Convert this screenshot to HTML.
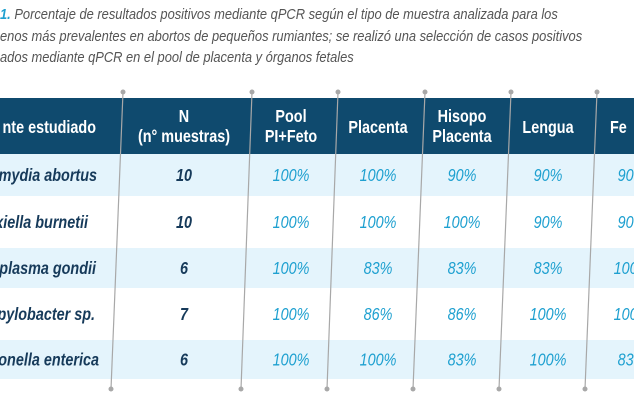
<!DOCTYPE html>
<html><head><meta charset="utf-8"><style>
body{margin:0;background:#fff;width:634px;height:400px;overflow:hidden}
svg{display:block;font-family:"Liberation Sans",sans-serif}
</style></head><body>
<svg id="t" width="634" height="400" viewBox="0 0 634 400">
<g font-style="italic" font-size="15" fill="#555" transform="scale(0.86,1)">
<text x="0" y="19"><tspan fill="#1ea0d0" font-weight="bold">1.</tspan> Porcentaje de resultados positivos mediante qPCR según el tipo de muestra analizada para los</text>
<text x="0" y="41">enos más prevalentes en abortos de pequeños rumiantes; se realizó una selección de casos positivos</text>
<text x="0" y="62">ados mediante qPCR en el pool de placenta y órganos fetales</text>
</g>
<rect x="0" y="98" width="634" height="56" fill="#0f4a6e"/>
<g id="rows"></g>
<g id="hdr" font-weight="bold" fill="#fff" font-size="18" text-anchor="middle"></g>
<g id="lines"></g>
</svg>
<script>
const species=["Chlamydia abortus","Coxiella burnetii","Toxoplasma gondii","Campylobacter sp.","Salmonella enterica"];
const nSamples=[10,10,6,7,6];
const pool=[100,100,100,100,100];
const placenta=[100,100,83,86,100];
const hisopo=[90,100,83,86,83];
const lengua=[90,90,83,100,100];
const feto=[90,90,100,100,83];
const NS="http://www.w3.org/2000/svg";
const SX=0.8;
function mk(tag,attrs,parent,txt){const e=document.createElementNS(NS,tag);for(const k in attrs)e.setAttribute(k,attrs[k]);if(txt!==undefined)e.textContent=txt;parent.appendChild(e);return e;}
function tx(x,y,attrs,parent,txt){attrs.x=0;attrs.y=y;attrs.transform='translate('+x+',0) scale('+SX+',1)';return mk('text',attrs,parent,txt);}
const rowTop=[154,196,248,288,340],rowBot=[196,248,288,340,379];
const colX=[184,291,378,462,548,632];
const nameEnd=[97,88,96,95,99];
const rows=document.getElementById('rows');
species.forEach((s,i)=>{
 const r=mk('rect',{x:0,y:rowTop[i],width:634,height:rowBot[i]-rowTop[i],fill:i%2==0?'#e4f4fc':'#fff'},rows);
 
 
 const cy=(rowTop[i]+rowBot[i])/2+6;
 const t=tx(nameEnd[i],cy,{'text-anchor':'end','font-weight':'bold','font-style':'italic','font-size':18,fill:'#163a5a'},rows,s);
 
 
 const n=tx(colX[0],cy,{'text-anchor':'middle','font-weight':'bold','font-style':'italic','font-size':18,fill:'#163a5a'},rows,nSamples[i]);
 
 
 [pool,placenta,hisopo,lengua,feto].forEach((arr,j)=>{
  const v=tx(colX[j+1],cy,{'text-anchor':'middle','font-style':'italic','font-size':18,fill:'#1ea0d0'},rows,arr[i]+'%');
  
  
 });
});
const hdr=document.getElementById('hdr');
const h=[[96,['nte estudiado'],'end'],[184,['N','(n° muestras)'],'middle'],[291,['Pool','PI+Feto'],'middle'],[378,['Placenta'],'middle'],[462,['Hisopo','Placenta'],'middle'],[548,['Lengua'],'middle'],[610,['Fe'],'start']];
h.forEach(([x,ls,anc])=>{
 const g=mk('text',{'text-anchor':anc,transform:'translate('+x+',0) scale('+SX+',1)'},hdr);
 
 
 ls.forEach((l,k)=>{mk('tspan',{x:0,y:ls.length==1?133:(122+k*20)},g,l);});
});
const lines=document.getElementById('lines');
const topX=[123,252,338,425,511,597],botX=[111,241,327,413,499,585];
topX.forEach((x,i)=>{
 const l=mk('line',{x1:x,y1:92,x2:botX[i],y2:389,stroke:'#a8a8a8','stroke-width':1.2},lines);
 
 
 mk('circle',{cx:x,cy:92,r:2.5,fill:'#a8a8a8'},lines);
 mk('circle',{cx:botX[i],cy:389,r:2.5,fill:'#a8a8a8'},lines);
});
</script>
</body></html>
